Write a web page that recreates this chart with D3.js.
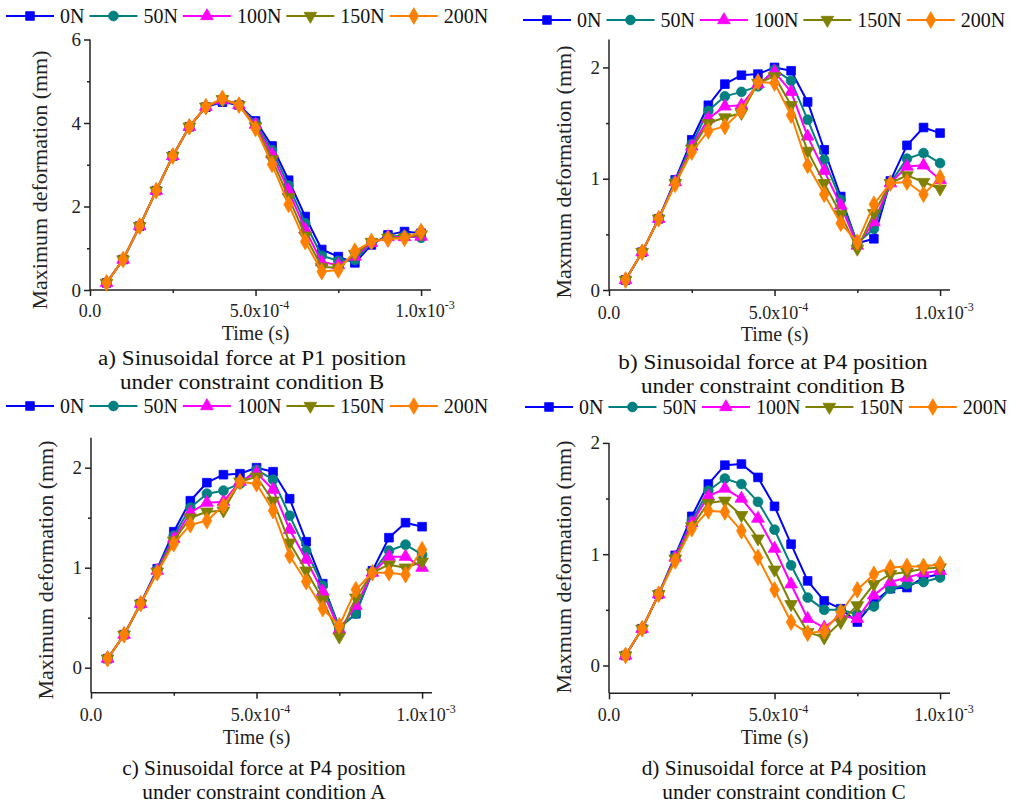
<!DOCTYPE html>
<html><head><meta charset="utf-8">
<script src="https://cdn.jsdelivr.net/npm/d3@7"></script>
<style>body{margin:0;background:#fff}svg{display:block}</style>
</head><body>
<svg id="chart" width="1023" height="806"></svg>
<script>
const time = [0.5e-4,1.0e-4,1.5e-4,2.0e-4,2.5e-4,3.0e-4,3.5e-4,4.0e-4,4.5e-4,5.0e-4,5.5e-4,6.0e-4,6.5e-4,7.0e-4,7.5e-4,8.0e-4,8.5e-4,9.0e-4,9.5e-4,1.0e-3];
const seriesNames = ["0N","50N","100N","150N","200N"];
const seriesColors = ["#0000ff","#008080","#ff00ff","#808000","#ff8000"];
const seriesSymbols = ["square","circle","triangleUp","triangleDown","diamond"];

// Panel a
const a0N   = [0.17,0.73,1.53,2.38,3.21,3.91,4.38,4.50,4.43,4.05,3.45,2.63,1.76,0.97,0.80,0.65,1.08,1.32,1.40,1.36];
const a50N  = [0.17,0.73,1.53,2.38,3.21,3.91,4.39,4.53,4.43,4.00,3.35,2.50,1.60,0.82,0.70,0.72,1.12,1.28,1.30,1.25];
const a100N = [0.17,0.73,1.53,2.38,3.21,3.91,4.39,4.55,4.43,3.96,3.25,2.38,1.45,0.67,0.60,0.80,1.13,1.27,1.27,1.28];
const a150N = [0.17,0.73,1.53,2.38,3.21,3.91,4.39,4.57,4.43,3.92,3.13,2.22,1.30,0.55,0.53,0.86,1.15,1.25,1.26,1.33];
const a200N = [0.17,0.73,1.53,2.38,3.21,3.91,4.39,4.59,4.43,3.87,3.01,2.05,1.16,0.44,0.48,0.93,1.16,1.22,1.24,1.40];
// Panel b
const b0N   = [0.09,0.34,0.64,0.99,1.35,1.66,1.85,1.93,1.94,2.00,1.97,1.69,1.26,0.84,0.42,0.46,0.98,1.30,1.46,1.41];
const b50N  = [0.09,0.34,0.64,0.98,1.31,1.61,1.74,1.78,1.83,1.98,1.88,1.53,1.17,0.81,0.42,0.55,0.96,1.18,1.23,1.14];
const b100N = [0.09,0.34,0.64,0.97,1.29,1.54,1.65,1.66,1.85,1.96,1.78,1.38,1.07,0.76,0.40,0.61,0.96,1.11,1.12,0.99];
const b150N = [0.09,0.34,0.64,0.96,1.27,1.50,1.55,1.59,1.86,1.92,1.66,1.25,0.96,0.68,0.37,0.69,0.96,1.03,0.97,0.91];
const b200N = [0.09,0.34,0.64,0.95,1.24,1.43,1.47,1.61,1.87,1.86,1.57,1.12,0.86,0.60,0.43,0.77,0.96,0.97,0.86,1.01];
// Panel c
const c0N   = [0.09,0.33,0.64,0.99,1.36,1.67,1.85,1.93,1.94,2.00,1.96,1.69,1.26,0.84,0.40,0.54,0.97,1.30,1.45,1.41];
const c50N  = [0.09,0.33,0.64,0.98,1.32,1.60,1.74,1.77,1.84,1.98,1.88,1.52,1.17,0.82,0.40,0.54,0.95,1.17,1.23,1.13];
const c100N = [0.09,0.33,0.64,0.97,1.29,1.55,1.65,1.66,1.86,1.95,1.78,1.38,1.08,0.76,0.38,0.62,0.95,1.11,1.11,1.00];
const c150N = [0.09,0.33,0.64,0.96,1.27,1.50,1.56,1.57,1.86,1.91,1.67,1.25,0.97,0.68,0.31,0.70,0.95,1.03,1.00,1.06];
const c200N = [0.09,0.33,0.64,0.95,1.24,1.43,1.47,1.62,1.86,1.84,1.57,1.12,0.86,0.59,0.42,0.78,0.95,0.95,0.93,1.18];
// Panel d
const d0N   = [0.09,0.33,0.64,0.99,1.34,1.63,1.80,1.81,1.69,1.43,1.09,0.76,0.58,0.51,0.39,0.57,0.69,0.70,0.79,0.82];
const d50N  = [0.09,0.33,0.64,0.98,1.30,1.57,1.68,1.63,1.47,1.22,0.90,0.61,0.50,0.50,0.46,0.53,0.69,0.73,0.75,0.79];
const d100N = [0.09,0.33,0.64,0.97,1.28,1.52,1.59,1.50,1.32,1.05,0.73,0.42,0.34,0.45,0.42,0.63,0.75,0.79,0.83,0.85];
const d150N = [0.09,0.33,0.64,0.96,1.25,1.46,1.48,1.35,1.14,0.86,0.55,0.30,0.25,0.39,0.54,0.73,0.82,0.84,0.87,0.88];
const d200N = [0.09,0.33,0.64,0.94,1.23,1.39,1.38,1.21,0.97,0.68,0.39,0.29,0.31,0.48,0.68,0.82,0.88,0.89,0.89,0.91];

const xMajorTicks = [0, 5e-4, 1e-3];
const xMinorTicks = [2.5e-4, 7.5e-4];
const xTickLabels = [["0.0",""],["5.0x10","-4"],["1.0x10","-3"]];

const panels = [
  {series:[a0N,a50N,a100N,a150N,a200N], yDomain:[0,6], yMajor:[0,2,4,6], yMinor:[1,3,5],
   ylabel:"Maximum deformation (mm)", caption:["a) Sinusoidal force at P1 position","under constraint condition B"],
   x0:90, x1:431, y0:290, y1:39.5, legendX:6, legendY:16, ylabX:42, ylabY:180, tickY:317, titleY:340,
   capX:252, capY:[365,389], capScale:1.13},
  {series:[b0N,b50N,b100N,b150N,b200N], yDomain:[0,2.25], yMajor:[0,1,2], yMinor:[0.5,1.5],
   ylabel:"Maxmum deformation (mm)", caption:["b) Sinusoidal force at P4 position","under constraint condition B"],
   x0:609, x1:950, y0:290, y1:39.6, legendX:523, legendY:20, ylabX:566, ylabY:172, tickY:319, titleY:341,
   capX:773, capY:[369,393], capScale:1.13},
  {series:[c0N,c50N,c100N,c150N,c200N], yDomain:[-0.25,2.3], yMajor:[0,1,2], yMinor:[0.5,1.5],
   ylabel:"Maximum deformation (mm)", caption:["c) Sinusoidal force at P4 position","under constraint condition A"],
   x0:91, x1:432, y0:692.7, y1:437.7, legendX:6, legendY:406, ylabX:48, ylabY:570, tickY:721, titleY:744,
   capX:264, capY:[775,799], capScale:1.04},
  {series:[d0N,d50N,d100N,d150N,d200N], yDomain:[-0.25,2.0], yMajor:[0,1,2], yMinor:[0.5,1.5],
   ylabel:"Maxmum deformation (mm)", caption:["d) Sinusoidal force at P4 position","under constraint condition C"],
   x0:609, x1:950, y0:693.3, y1:442.9, legendX:525, legendY:407, ylabX:566, ylabY:567, tickY:721, titleY:744,
   capX:784, capY:[775,799], capScale:1.04}
];

const FONT = "'Liberation Serif','Times New Roman',serif";
const CAPTION_SIZE = 20.5;
const svg = d3.select("#chart");
const symbolMap = {
  square: d3.symbol().type(d3.symbolSquare).size(75),
  circle: d3.symbol().type(d3.symbolCircle).size(75),
  triangleUp: d3.symbol().type(d3.symbolTriangle).size(70),
  triangleDown: d3.symbol().type(d3.symbolTriangle).size(70),
  diamond: d3.symbol().type(d3.symbolDiamond).size(80)
};
function drawSymbol(g, kind, x, y, color){
  g.append("path").attr("d", symbolMap[kind]())
    .attr("transform", `translate(${x},${y})` + (kind==="triangleDown" ? " rotate(180)" : ""))
    .attr("fill", color).attr("stroke", color).attr("stroke-width", 0.8);
}

panels.forEach(p => {
  const g = svg.append("g");
  const x = d3.scaleLinear().domain([0, 1.03e-3]).range([p.x0, p.x1]);
  const y = d3.scaleLinear().domain(p.yDomain).range([p.y0, p.y1]);

  const axisColor = "#222";
  const xa = g.append("g").attr("transform", `translate(0,${p.y0})`)
    .call(d3.axisBottom(x).tickValues(xMajorTicks).tickSize(6).tickFormat(""));
  xa.select(".domain").attr("d", `M${p.x0},0H${p.x1}`);
  g.append("g").attr("transform", `translate(0,${p.y0})`)
    .call(d3.axisBottom(x).tickValues(xMinorTicks).tickSize(3).tickFormat(""))
    .select(".domain").remove();
  const ya = g.append("g").attr("transform", `translate(${p.x0},0)`)
    .call(d3.axisLeft(y).tickValues(p.yMajor).tickSize(6).tickFormat(""));
  ya.select(".domain").attr("d", `M0,${p.y0}V${p.y1}`);
  g.append("g").attr("transform", `translate(${p.x0},0)`)
    .call(d3.axisLeft(y).tickValues(p.yMinor).tickSize(3).tickFormat(""))
    .select(".domain").remove();
  g.selectAll(".domain, .tick line").attr("stroke", axisColor).attr("stroke-width", 1.5);

  p.yMajor.forEach(v => {
    g.append("text").attr("x", p.x0 - 9).attr("y", y(v) + 6.5)
      .attr("text-anchor", "end").attr("font-family", FONT).attr("font-size", 19)
      .attr("fill", "#222").text(d3.format("d")(v));
  });
  xMajorTicks.forEach((v, i) => {
    const t = g.append("text").attr("x", x(v) + (i===0 ? 0 : 4)).attr("y", p.tickY)
      .attr("text-anchor", "middle").attr("font-family", FONT).attr("font-size", 18).attr("fill", "#222");
    t.append("tspan").text(xTickLabels[i][0]);
    if (xTickLabels[i][1]) t.append("tspan").attr("font-size", 12).attr("dy", -8).text(xTickLabels[i][1]);
  });
  g.append("text").attr("x", x(5e-4)).attr("y", p.titleY).attr("text-anchor", "middle")
    .attr("font-family", FONT).attr("font-size", 20).attr("fill", "#222").text("Time (s)");
  g.append("text").attr("transform", `translate(${p.ylabX},${p.ylabY}) rotate(-90)`)
    .attr("text-anchor", "middle").attr("dominant-baseline", "middle")
    .attr("font-family", FONT).attr("font-size", 22).attr("fill", "#222").text(p.ylabel);
  p.caption.forEach((c, i) => {
    g.append("text").attr("transform", `translate(${p.capX},${p.capY[i]}) scale(${p.capScale},1)`)
      .attr("text-anchor", "middle")
      .attr("font-family", FONT).attr("font-size", CAPTION_SIZE).attr("fill", "#111").text(c);
  });

  const line = d3.line().x((d, i) => x(time[i])).y(d => y(d));
  p.series.forEach((vals, si) => {
    const sg = g.append("g");
    sg.append("path").datum(vals).attr("d", line).attr("fill", "none")
      .attr("stroke", seriesColors[si]).attr("stroke-width", 2).attr("stroke-linejoin", "round");
    vals.forEach((v, i) => drawSymbol(sg, seriesSymbols[si], x(time[i]), y(v), seriesColors[si]));
  });

  let lx = p.legendX;
  seriesNames.forEach((name, si) => {
    const lg = g.append("g");
    lg.append("line").attr("x1", lx).attr("x2", lx + 48).attr("y1", p.legendY).attr("y2", p.legendY)
      .attr("stroke", seriesColors[si]).attr("stroke-width", 2);
    drawSymbol(lg, seriesSymbols[si], lx + 24, p.legendY, seriesColors[si]);
    const t = lg.append("text").attr("x", lx + 54).attr("y", p.legendY + 7)
      .attr("font-family", FONT).attr("font-size", 20).attr("fill", "#111").text(name);
    const w = t.node().getComputedTextLength();
    lx = lx + 54 + w + 5;
  });
});
</script>
</body></html>
